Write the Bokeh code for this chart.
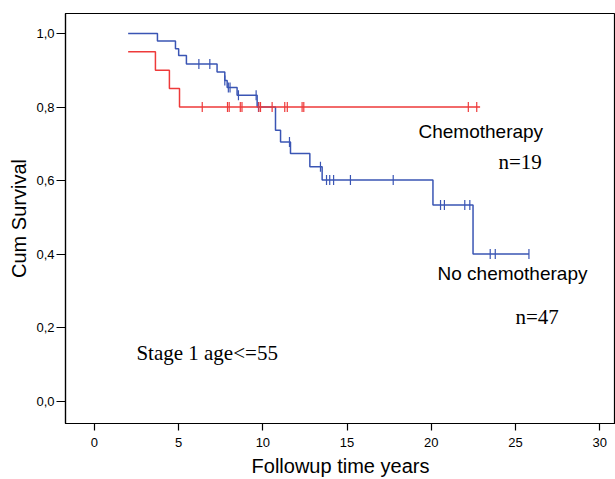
from bokeh.plotting import figure
from bokeh.embed import file_html
from bokeh.resources import INLINE
from bokeh.models import Range1d, FixedTicker, CustomJSTickFormatter, ColumnDataSource
from bokeh.core.properties import value
import math

# No chemotherapy (n=47): step times and survival
nochemo_t = [2.0, 3.74, 4.81, 5.0, 5.46, 7.28, 7.74, 7.88, 8.47, 9.66, 10.75, 11.05, 11.64, 12.79, 13.52, 20.1, 22.48, 25.8]
nochemo_s = [1.0, 0.979, 0.958, 0.94, 0.917, 0.895, 0.872, 0.853, 0.832, 0.80, 0.737, 0.705, 0.674, 0.638, 0.602, 0.534, 0.401, 0.401]
nochemo_cens_t = [6.2, 6.85, 7.74, 7.95, 8.05, 8.55, 9.6, 9.74, 11.58, 13.42, 13.78, 13.97, 14.2, 15.2, 17.74, 20.55, 20.78, 21.99, 22.29, 23.5, 23.8, 25.8]
nochemo_cens_s = [0.917, 0.917, 0.872, 0.853, 0.853, 0.832, 0.832, 0.80, 0.705, 0.638, 0.602, 0.602, 0.602, 0.602, 0.602, 0.534, 0.534, 0.534, 0.534, 0.401, 0.401, 0.401]

# Chemotherapy (n=19)
chemo_t = [2.0, 3.62, 4.45, 5.05, 22.9]
chemo_s = [0.95, 0.90, 0.85, 0.80, 0.80]
chemo_cens_t = [6.4, 7.9, 8.0, 8.66, 8.76, 9.76, 9.86, 10.55, 11.3, 11.45, 12.33, 12.43, 22.2, 22.7]
chemo_cens_s = [0.80] * len(chemo_cens_t)

x_ticks = [0, 5, 10, 15, 20, 25, 30]
y_ticks = [0.0, 0.2, 0.4, 0.6, 0.8, 1.0]

BLUE = "#3a55b4"
RED = "#ee3a3a"

p = figure(width=615, height=479, output_backend="svg", toolbar_location=None,
           x_range=Range1d(-1.72, 30.94), y_range=Range1d(-0.0596, 1.054),
           min_border_left=65, min_border_right=0, min_border_top=13, min_border_bottom=55)
p.background_fill_color = "white"
p.border_fill_color = "white"
p.outline_line_color = "black"
p.outline_line_width = 1.2
p.xgrid.visible = False
p.ygrid.visible = False

p.step(nochemo_t, nochemo_s, mode="after", line_color=BLUE, line_width=1.5)
p.step(chemo_t, chemo_s, mode="after", line_color=RED, line_width=1.5)
p.scatter(nochemo_cens_t, nochemo_cens_s, marker="dash", angle=math.pi / 2, size=10,
          line_color=BLUE, line_width=1.2)
p.scatter(chemo_cens_t, chemo_cens_s, marker="dash", angle=math.pi / 2, size=10,
          line_color=RED, line_width=1.2)

for ax in (p.xaxis[0], p.yaxis[0]):
    ax.axis_line_color = "black"
    ax.axis_line_width = 1.2
    ax.major_tick_line_color = "black"
    ax.major_tick_line_width = 1.2
    ax.minor_tick_line_color = None
    ax.major_tick_in = 0
    ax.major_label_text_font = "Liberation Sans"
    ax.major_label_text_font_size = "13px"
    ax.major_label_text_color = "black"
    ax.axis_label_text_font = "Liberation Sans"
    ax.axis_label_text_font_size = "20px"
    ax.axis_label_text_font_style = "normal"
    ax.axis_label_text_color = "black"

p.xaxis.ticker = FixedTicker(ticks=x_ticks)
p.xaxis.major_tick_out = 7
p.xaxis.major_label_standoff = 7
p.xaxis.axis_label = "Followup time years"
p.xaxis.axis_label_standoff = 5

p.yaxis.ticker = FixedTicker(ticks=y_ticks)
p.yaxis.formatter = CustomJSTickFormatter(code="return tick.toFixed(1).replace('.', ',');")
p.yaxis.major_tick_out = 9
p.yaxis.major_label_standoff = 2
p.yaxis.axis_label = "Cum Survival"
p.yaxis.axis_label_standoff = 3

labels = ColumnDataSource(dict(
    x=[19.24, 20.37],
    y=[0.7325, 0.347],
    t=["Chemotherapy", "No chemotherapy"],
))
p.text(x="x", y="y", text="t", source=labels, text_font=value("Liberation Sans"),
       text_font_size="19px", text_align="left", text_baseline="middle", text_color="black")
serif = ColumnDataSource(dict(
    x=[23.99, 25.0, 2.49],
    y=[0.651, 0.231, 0.133],
    t=["n=19", "n=47", "Stage 1 age<=55"],
))
p.text(x="x", y="y", text="t", source=serif, text_font=value("Liberation Serif"),
       text_font_size="21px", text_align="left", text_baseline="middle", text_color="black")

open("out.html", "w").write(file_html(p, INLINE))
